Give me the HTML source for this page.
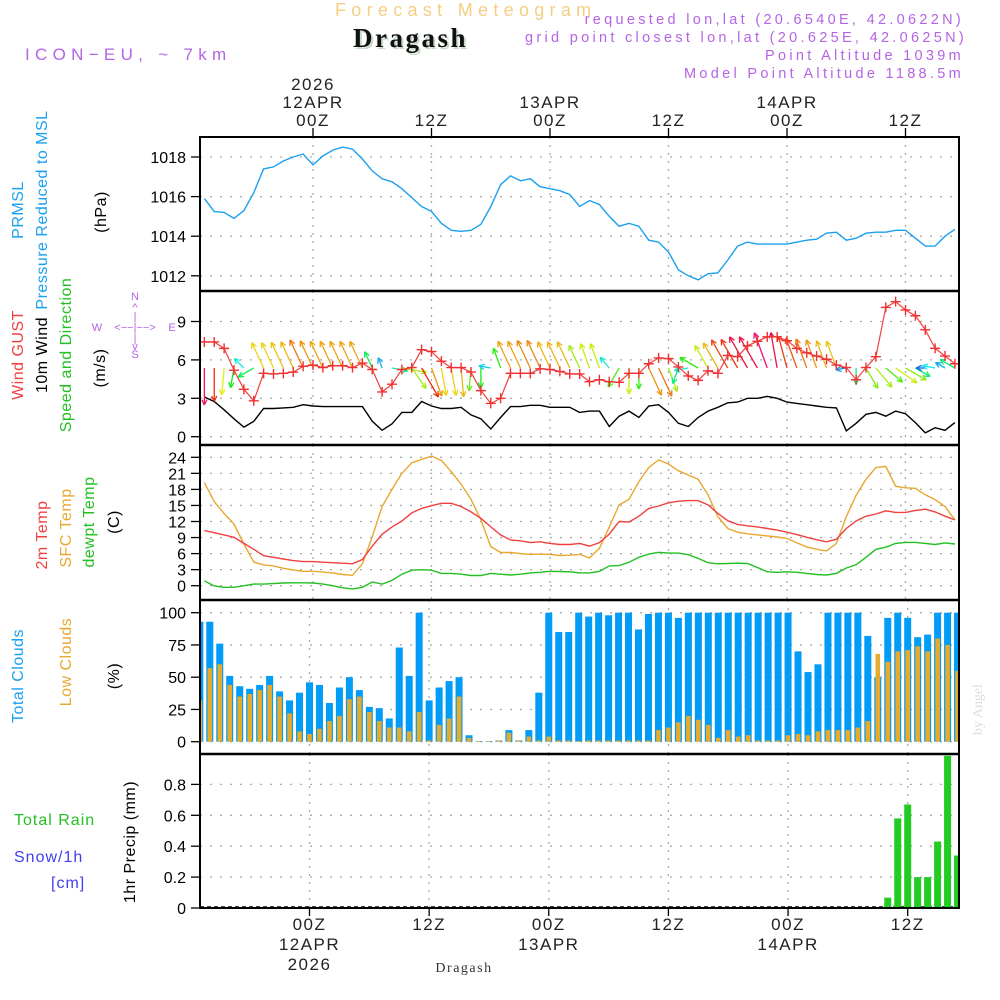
<!DOCTYPE html>
<html><head><meta charset="utf-8"><title>Meteogram Dragash</title>
<style>
html,body{margin:0;padding:0;background:#fff;}
svg{display:block;font-family:"Liberation Sans",sans-serif;}
.tk{font-size:16px;fill:#000;text-anchor:end;}
.tl{font-size:17px;fill:#222;text-anchor:middle;letter-spacing:1.5px;}
.lab{font-size:16px;text-anchor:middle;letter-spacing:0.5px;}
</style></head>
<body>
<svg id="chart" width="1000" height="1000" viewBox="0 0 1000 1000" xmlns="http://www.w3.org/2000/svg">
<g>
<text x="335" y="16" font-size="18" fill="#f4cf82" letter-spacing="5.3">Forecast Meteogram</text>
<text x="355" y="49" font-size="27" font-weight="bold" font-family="Liberation Serif, serif" fill="#c9dcc9" letter-spacing="2.5">Dragash</text>
<text x="353" y="47" font-size="27" font-weight="bold" font-family="Liberation Serif, serif" fill="#111" letter-spacing="2.5">Dragash</text>
<text x="25" y="60" font-size="17" fill="#b464e6" letter-spacing="5.3">ICON−EU, ~ 7km</text>
<g font-size="14.5" fill="#b464e6" text-anchor="end" letter-spacing="3.3">
<text x="964" y="24">requested lon,lat (20.6540E, 42.0622N)</text>
<text x="967" y="42">grid point closest lon,lat (20.625E, 42.0625N)</text>
<text x="964" y="60">Point Altitude 1039m</text>
<text x="964" y="78">Model Point Altitude 1188.5m</text>
</g>
</g>
<g id="grid"></g>
<g id="marks"></g>
<g id="frames"></g>
<g id="axes"></g>
<g>
<text class="lab" transform="translate(23,210) rotate(-90)" fill="#1aa0f0">PRMSL</text>
<text class="lab" transform="translate(47,210) rotate(-90)" fill="#1aa0f0">Pressure Reduced to MSL</text>
<text class="lab" transform="translate(106,212) rotate(-90)" fill="#000">(hPa)</text>
<text class="lab" transform="translate(23,355) rotate(-90)" fill="#f04040">Wind GUST</text>
<text class="lab" transform="translate(47,355) rotate(-90)" fill="#000">10m Wind</text>
<text class="lab" transform="translate(71,355) rotate(-90)" fill="#22c022">Speed and Direction</text>
<text class="lab" transform="translate(105,368) rotate(-90)" fill="#000">(m/s)</text>
<g fill="#b464e6" font-size="11" text-anchor="middle">
<text x="135" y="300">N</text><text x="135" y="311">^</text><text x="135" y="320">|</text>
<text x="97" y="331">W</text><text x="135" y="331">&lt;−−|−−&gt;</text><text x="172" y="331">E</text>
<text x="135" y="342">|</text><text x="135" y="350">v</text><text x="135" y="358">S</text>
</g>
<text class="lab" transform="translate(47,535) rotate(-90)" fill="#f04040">2m Temp</text>
<text class="lab" transform="translate(71,528) rotate(-90)" fill="#e8a830">SFC Temp</text>
<text class="lab" transform="translate(94,522) rotate(-90)" fill="#22c022">dewpt Temp</text>
<text class="lab" transform="translate(119,522) rotate(-90)" fill="#000">(C)</text>
<text class="lab" transform="translate(23,676) rotate(-90)" fill="#1aa0f0">Total Clouds</text>
<text class="lab" transform="translate(71,662) rotate(-90)" fill="#e8a830">Low Clouds</text>
<text class="lab" transform="translate(119,676) rotate(-90)" fill="#000">(%)</text>
<text x="14" y="825" font-size="16" fill="#22c022" letter-spacing="1">Total  Rain</text>
<text x="14" y="862" font-size="16" fill="#4040f0" letter-spacing="1">Snow/1h</text>
<text x="51" y="888" font-size="16" fill="#4040f0" letter-spacing="1">[cm]</text>
<text class="lab" transform="translate(135,842) rotate(-90)" fill="#000">1hr Precip (mm)</text>
</g>
<text transform="translate(982,735) rotate(-90)" font-size="14" font-family="Liberation Serif, serif" fill="#ddd">by Angel</text>
<text x="464" y="972" font-size="14" font-family="Liberation Serif, serif" fill="#333" text-anchor="middle" letter-spacing="1.5">Dragash</text>
</svg>
<script>
const hours = [];
for (let h = -11; h <= 65; h++) hours.push(h);
const pressure = [1015.9,1015.24,1015.2,1014.9,1015.3,1016.2,1017.4,1017.5,1017.8,1018.0,1018.15,1017.6,1018.05,1018.35,1018.5,1018.4,1017.9,1017.3,1016.9,1016.75,1016.4,1015.95,1015.5,1015.25,1014.65,1014.3,1014.25,1014.3,1014.6,1015.5,1016.6,1017.05,1016.8,1016.9,1016.5,1016.4,1016.3,1016.1,1015.5,1015.8,1015.6,1015.0,1014.5,1014.65,1014.5,1013.8,1013.7,1013.2,1012.3,1012.0,1011.8,1012.1,1012.15,1012.8,1013.5,1013.7,1013.6,1013.6,1013.6,1013.6,1013.7,1013.8,1013.85,1014.15,1014.2,1013.8,1013.9,1014.15,1014.2,1014.2,1014.3,1014.3,1013.9,1013.5,1013.5,1014.0,1014.35];
const wind10m = [3.1,2.74,2.1,1.4,0.75,1.2,2.2,2.2,2.25,2.3,2.5,2.4,2.35,2.35,2.35,2.35,2.35,1.2,0.5,1.0,1.9,1.9,2.75,2.4,2.2,2.2,2.3,1.7,1.4,0.6,1.5,2.35,2.35,2.45,2.45,2.3,2.3,2.3,1.9,2.0,2.0,0.8,1.6,2.0,1.5,2.4,2.5,1.9,1.05,0.8,1.5,2.0,2.3,2.65,2.7,3.0,3.0,3.15,3.0,2.7,2.6,2.5,2.4,2.3,2.25,0.45,1.05,1.75,1.9,1.6,2.0,1.8,1.1,0.3,0.7,0.5,1.1];
const gust = [7.4,7.4,6.9,5.2,3.7,2.8,4.95,4.9,4.95,5.05,5.5,5.6,5.4,5.55,5.55,5.4,5.75,5.25,3.5,4.1,5.25,5.4,6.8,6.65,5.9,5.4,5.4,5.05,3.6,2.6,3.0,4.95,4.95,4.95,5.3,5.25,5.1,4.9,4.9,4.3,4.45,4.3,4.25,4.95,4.95,5.7,6.15,6.1,5.45,4.75,4.4,5.15,4.95,6.35,6.25,7.1,7.45,7.8,7.8,7.5,6.9,6.55,6.3,6.05,5.6,5.4,4.45,5.4,6.25,10.1,10.55,9.9,9.45,8.35,6.9,6.3,5.7];
const windDir = [180,180,185,190,315,240,335,335,335,335,335,335,335,335,335,335,335,335,340,100,100,145,150,160,170,170,175,185,180,280,340,335,335,335,335,335,335,335,335,340,340,320,210,180,180,155,155,160,200,260,300,330,330,330,330,330,330,340,350,345,340,340,340,340,340,260,180,150,140,130,125,120,120,270,280,300,300];
const temp2m = [10.3,9.9,9.5,9.05,7.9,6.8,5.6,5.3,5.0,4.7,4.5,4.5,4.4,4.3,4.2,4.1,4.9,7.4,9.6,11.0,12.1,13.6,14.45,14.95,15.4,15.4,14.8,13.8,12.6,11.0,9.5,8.55,8.4,8.05,8.2,7.9,7.7,7.7,7.9,7.4,8.05,9.65,12.0,11.9,13.0,14.45,14.9,15.5,15.8,15.9,15.9,15.1,13.5,12.15,11.45,11.2,11.0,10.7,10.4,10.0,9.55,9.05,8.6,8.2,8.7,10.7,12.1,13.0,13.4,14.0,13.7,13.7,14.05,14.3,13.8,13.0,12.3];
const tempSfc = [19.25,15.7,13.5,11.5,7.8,4.4,3.9,3.7,3.25,2.95,2.7,2.7,2.55,2.4,2.1,1.95,4.1,9.15,14.8,18.0,21.0,23.0,23.6,24.25,23.4,21.3,18.95,16.15,12.3,7.3,6.2,6.2,6.0,5.85,5.9,5.85,5.65,5.7,5.85,5.2,7.0,11.0,15.1,16.15,19.45,22.1,23.5,22.75,21.5,20.7,19.9,17.0,12.9,10.7,10.0,9.7,9.5,9.3,9.1,8.85,8.0,7.25,6.8,6.5,7.9,12.9,16.9,19.9,22.1,22.3,18.6,18.3,18.2,17.0,16.1,14.8,12.3];
const dewpt = [0.9,-0.05,-0.3,-0.3,0,0.3,0.3,0.4,0.5,0.55,0.55,0.5,0.3,0,-0.4,-0.6,-0.3,0.7,0.3,1.0,2.15,2.9,3.0,2.9,2.3,2.3,2.15,1.9,1.9,2.3,2.15,2.0,2.15,2.4,2.5,2.7,2.65,2.6,2.4,2.4,2.7,3.7,3.75,4.4,5.3,5.9,6.25,6.1,6.1,5.8,5.1,4.3,4.1,4.15,4.2,4.15,3.4,2.6,2.5,2.6,2.5,2.3,2.1,2.0,2.3,3.3,3.9,5.3,6.8,7.2,7.9,8.1,8.1,7.9,7.7,8.0,7.8];
const totalClouds = [93,93,76,51,43,41,44,51,39,32,38,46,44,30,42,50,40,27,26,18,73,51,100,32,42,47,50,5,0.5,0.5,1,9,1,9,38,100,85,85,100,97,100,98,100,100,87,99,100,100,96,100,100,100,100,100,100,100,100,100,100,100,70,54,60,100,100,100,100,82,50,96,100,96,81,83,100,100,100];
const lowClouds = [32,57,60,44,35,37,40,44,35,22,8,6,10,16,20,33,35,23,16,11,11,8,23,1,13,18,35,3,0.5,0.5,1,7,1,4,1,4,1,1,0.5,1,1,1,1,1,1,1,9,11,15,20,17,13,3,9,4,5,1,1,1,5,6,5,8,9,9,9,11,16,68,62,70,71,74,70,80,75,55];
const precip = [0,0,0,0,0,0,0,0,0,0,0,0,0,0,0,0,0,0,0,0,0,0,0,0,0,0,0,0,0,0,0,0,0,0,0,0,0,0,0,0,0,0,0,0,0,0,0,0,0,0,0,0,0,0,0,0,0,0,0,0,0,0,0,0,0,0,0,0,0,0.067,0.58,0.67,0.2,0.2,0.43,0.985,0.34];
const pressTicks = [1012,1014,1016,1018];
const windTicks = [0,3,6,9];
const tempTicks = [0,3,6,9,12,15,18,21,24];
const cloudTicks = [0,25,50,75,100];
const precipTicks = [0,0.2,0.4,0.6,0.8];
const gridHours = [0,12,24,36,48,60];
const topDayLabels = ["12APR","","13APR","","14APR",""];
const hourLabels = ["00Z","12Z","00Z","12Z","00Z","12Z"];

const NS = "http://www.w3.org/2000/svg";
const xU = h => 313 + 9.875 * h;
const xL = h => 309.5 + 9.97 * h;
const yP = v => 157 + (1018 - v) * 19.8;
const yW = v => 436.7 - 12.8 * v;
const yT = v => 585.7 - 5.35 * v;
const yC = v => 741.7 - 1.29 * v;
const yR = v => 908 - 154.5 * v;
const L = 200, R = 959;
const panels = [[137,291],[291,445],[445,600],[600,754],[754,908]];

function mk(tag, attrs, parent) {
  const e = document.createElementNS(NS, tag);
  for (const k in attrs) e.setAttribute(k, attrs[k]);
  parent.appendChild(e);
  return e;
}
const grid = document.getElementById('grid');
const marks = document.getElementById('marks');
const frames = document.getElementById('frames');
const axes = document.getElementById('axes');

const defs = mk('defs', {}, document.getElementById('chart'));
const cp = mk('clipPath', {id: 'plotclip'}, defs);
mk('rect', {x: L, y: 137, width: R - L, height: 771}, cp);
marks.setAttribute('clip-path', 'url(#plotclip)');

function hTicks(ticks, yf, fmt, name) {
  ticks.forEach(t => {
    const y = yf(t);
    const g = mk('line', {x1: L, x2: R, y1: y, y2: y, stroke: '#aaa', 'stroke-width': 1.3, 'stroke-dasharray': '2 8'}, grid);
    
    
    mk('line', {x1: L - 9, x2: L, y1: y, y2: y, stroke: '#000', 'stroke-width': 1.3}, axes);
    const tx = mk('text', {x: 186, y: y + 6, class: 'tk'}, axes);
    tx.textContent = fmt(t);
    
    
  });
}
hTicks(pressTicks, yP, t => String(t), 'pressure');
hTicks(windTicks, yW, t => String(t), 'wind');
hTicks(tempTicks, yT, t => String(t), 'temp');
hTicks(cloudTicks, yC, t => String(t), 'cloud');
hTicks(precipTicks, yR, t => t === 0 ? '0' : t.toFixed(1), 'precip');

gridHours.forEach((h, i) => {
  [[0,1,2],[3,4]].forEach((set, k) => {
    const xf = k === 0 ? xU : xL;
    set.forEach(pi => {
      const p = panels[pi];
      const x = xf(h);
      const g = mk('line', {x1: x, x2: x, y1: p[0], y2: p[1], stroke: '#aaa', 'stroke-width': 1.3, 'stroke-dasharray': '2 6'}, grid);
      
      
    });
  });
  const x = xU(h);
  mk('line', {x1: x, x2: x, y1: 128, y2: 137, stroke: '#000', 'stroke-width': 1.3}, axes);
  const t1 = mk('text', {x: x, y: 126, class: 'tl'}, axes);
  t1.textContent = hourLabels[i];
  
  
  if (topDayLabels[i]) {
    const t2 = mk('text', {x: x, y: 108, class: 'tl'}, axes);
    t2.textContent = topDayLabels[i];
    
    
  }
  const xb = xL(h);
  mk('line', {x1: xb, x2: xb, y1: 908, y2: 916, stroke: '#000', 'stroke-width': 1.3}, axes);
  const b1 = mk('text', {x: xb, y: 930, class: 'tl'}, axes);
  b1.textContent = hourLabels[i];
  
  
  if (topDayLabels[i]) {
    const b2 = mk('text', {x: xb, y: 950, class: 'tl'}, axes);
    b2.textContent = topDayLabels[i];
    
    
  }
});
const y1 = mk('text', {x: xU(0), y: 90, class: 'tl'}, axes);
y1.textContent = '2026';


const y2 = mk('text', {x: xL(0), y: 970, class: 'tl'}, axes);
y2.textContent = '2026';



const fr = mk('rect', {x: L, y: 137, width: R - L, height: 771, fill: 'none', stroke: '#000', 'stroke-width': 2}, frames);


[291,445,600,754].forEach(y => {
  const d = mk('line', {x1: L, x2: R, y1: y, y2: y, stroke: '#000', 'stroke-width': 2.5}, frames);
  
  
});

function line(arr, xf, yf, color, name) {
  const pts = arr.map((v, i) => xf(hours[i]).toFixed(1) + ',' + yf(v).toFixed(1)).join(' ');
  const p = mk('polyline', {points: pts, fill: 'none', stroke: color, 'stroke-width': 1.4}, marks);
  
  
  return p;
}

line(pressure, xU, yP, '#1aa0f0', 'pressure-line');
line(wind10m, xU, yW, '#000', 'wind-10m-line');

function hueColor(s) {
  let hue = 240 - 85 * s;
  if (hue < 0) hue += 360;
  return 'hsl(' + hue.toFixed(0) + ',85%,50%)';
}
windDir.forEach((d, i) => {
  const s = wind10m[i];
  const len = 6 + 10 * s;
  const x0 = xU(hours[i]), yy0 = 368;
  const rad = d * Math.PI / 180;
  const x1 = x0 + len * Math.sin(rad), yy1 = yy0 - len * Math.cos(rad);
  const col = hueColor(s);
  const g = mk('g', {stroke: col, 'stroke-width': 1.3, fill: 'none'}, marks);
  
  
  mk('line', {x1: x0, y1: yy0, x2: x1, y2: yy1}, g);
  [0.45, -0.45].forEach(a => {
    const bx = x1 - 6 * Math.sin(rad + a), by = yy1 + 6 * Math.cos(rad + a);
    mk('line', {x1: x1, y1: yy1, x2: bx, y2: by}, g);
  });
});

const gl = line(gust, xU, yW, '#f04040', 'gust-line');
gl.setAttribute('stroke-width', '1.2');
gust.forEach((v, i) => {
  const x = xU(hours[i]), y = yW(v);
  const m = mk('path', {d: `M${x-5},${y}H${x+5}M${x},${y-5}V${y+5}`, stroke: '#f03030', 'stroke-width': 1.4}, marks);
  
  
});

line(tempSfc, xU, yT, '#e8a830', 'sfc-temp-line');
line(temp2m, xU, yT, '#f04040', 'temp-2m-line');
line(dewpt, xU, yT, '#22c022', 'dewpoint-line');

totalClouds.forEach((v, i) => {
  const x = xL(hours[i]);
  const b = mk('rect', {x: x - 3.5, y: yC(v), width: 7, height: yC(0) - yC(v), fill: '#009cf8'}, marks);
  
  
});
lowClouds.forEach((v, i) => {
  const x = xL(hours[i]);
  const b = mk('rect', {x: x - 2.3, y: yC(v), width: 4.6, height: yC(0) - yC(v), fill: '#e8aa2a'}, marks);
  
  
});

const base = mk('line', {x1: L, x2: R, y1: 907, y2: 907, stroke: '#000', 'stroke-width': 1.5, 'stroke-dasharray': '4 3'}, marks);


precip.forEach((v, i) => {
  if (v <= 0) return;
  const x = xL(hours[i]);
  const b = mk('rect', {x: x - 3.5, y: yR(v), width: 7, height: yR(0) - yR(v), fill: '#22cc22'}, marks);
  
  
});
</script>
</body></html>
